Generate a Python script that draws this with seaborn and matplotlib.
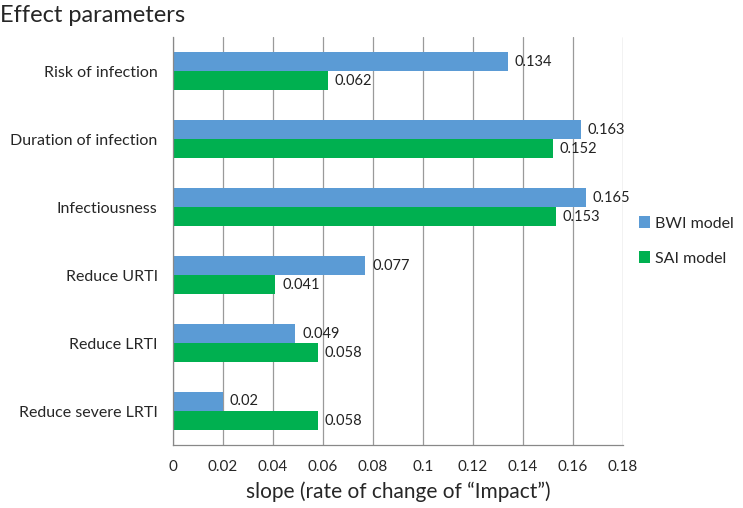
import pandas as pd
import matplotlib.pyplot as plt
import seaborn as sns

# Data
categories = ['Risk of infection', 'Duration of infection', 'Infectiousness',
              'Reduce URTI', 'Reduce LRTI', 'Reduce severe LRTI']
bwi_values = [0.134, 0.163, 0.165, 0.077, 0.049, 0.02]
sai_values = [0.062, 0.152, 0.153, 0.041, 0.058, 0.058]
series_names = ['BWI model', 'SAI model']
x_ticks = [0, 0.02, 0.04, 0.06, 0.08, 0.1, 0.12, 0.14, 0.16, 0.18]
x_tick_labels = ['0', '0.02', '0.04', '0.06', '0.08', '0.1', '0.12', '0.14', '0.16', '0.18']

df = pd.DataFrame({'category': categories * 2,
                   'value': bwi_values + sai_values,
                   'series': [series_names[0]] * 6 + [series_names[1]] * 6})

sns.set_style('white')
plt.rcParams['font.family'] = ['Lato', 'DejaVu Sans']

fig = plt.figure(figsize=(7.43, 5.08), dpi=100)
ax = fig.add_axes([0.2328, 0.124, 0.6057, 0.803])

palette = {'BWI model': '#5B9BD5', 'SAI model': '#00B050'}
sns.barplot(data=df, y='category', x='value', hue='series', palette=palette,
            order=categories, hue_order=series_names, width=0.56,
            orient='h', ax=ax, saturation=1, linewidth=0)

# value labels
for container in ax.containers:
    labels = [f'{v:g}' for v in container.datavalues]
    ax.bar_label(container, labels=labels, padding=5, fontsize=10.5, color='#222222')

ax.set_xlim(0, 0.18)
ax.set_ylim(5.5, -0.5)
ax.set_xticks(x_ticks)
ax.set_xticklabels(x_tick_labels, fontsize=11)
ax.tick_params(axis='x', direction='out', length=5, color='#888888', width=0.8, pad=6)
ax.set_yticks(range(len(categories)))
ax.set_yticklabels(categories, fontsize=11.5)
ax.tick_params(axis='y', which='major', length=0, pad=11)
ax.set_yticks([i - 0.5 for i in range(len(categories) + 1)], minor=True)
ax.tick_params(axis='y', which='minor', direction='out', length=5, color='#888888', width=0.8)

ax.grid(axis='x', color='#9a9a9a', linewidth=0.9)
ax.set_axisbelow(True)
for side in ['top', 'right']:
    ax.spines[side].set_visible(False)
for side in ['left', 'bottom']:
    ax.spines[side].set_color('#888888')
    ax.spines[side].set_linewidth(0.9)

ax.set_ylabel('')
ax.set_xlabel('slope (rate of change of \u201cImpact\u201d)', fontsize=15, labelpad=5)

ax.legend(loc='center left', bbox_to_anchor=(1.01, 0.5), frameon=False,
          fontsize=11.5, handlelength=0.7, handleheight=0.7, handletextpad=0.3,
          labelspacing=1.3, borderpad=0.2)

fig.text(0.0, 0.99, 'Effect parameters', fontsize=17, va='top', ha='left')

plt.savefig('out.png', dpi=100)
